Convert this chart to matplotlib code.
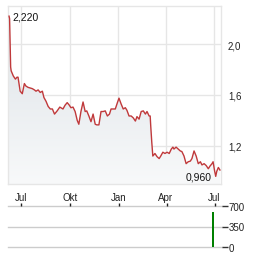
import numpy as np
import matplotlib
matplotlib.use('Agg')
import matplotlib.pyplot as plt
import matplotlib.dates as mdates
from matplotlib.colors import LinearSegmentedColormap
from datetime import datetime

# price series
dates = ['2024-06-08', '2024-06-09', '2024-06-11', '2024-06-12', '2024-06-16', '2024-06-20',
         '2024-06-23', '2024-06-25', '2024-06-29', '2024-07-03', '2024-07-07', '2024-07-10',
         '2024-07-14', '2024-07-18', '2024-07-22', '2024-07-26', '2024-07-29', '2024-08-02',
         '2024-08-06', '2024-08-10', '2024-08-13', '2024-08-17', '2024-08-21', '2024-08-25',
         '2024-08-29', '2024-09-02', '2024-09-07', '2024-09-12', '2024-09-18', '2024-09-22',
         '2024-09-26', '2024-09-30', '2024-10-03', '2024-10-07', '2024-10-11', '2024-10-15',
         '2024-10-18', '2024-10-22', '2024-10-26', '2024-10-30', '2024-11-02', '2024-11-06',
         '2024-11-10', '2024-11-14', '2024-11-18', '2024-11-21', '2024-11-25', '2024-11-29',
         '2024-12-03', '2024-12-07', '2024-12-11', '2024-12-15', '2024-12-18', '2024-12-22',
         '2024-12-26', '2024-12-30', '2025-01-02', '2025-01-06', '2025-01-10', '2025-01-14',
         '2025-01-17', '2025-01-21', '2025-01-25', '2025-01-29', '2025-02-02', '2025-02-05',
         '2025-02-09', '2025-02-13', '2025-02-17', '2025-02-21', '2025-02-24', '2025-02-28',
         '2025-03-02', '2025-03-03', '2025-03-05', '2025-03-07', '2025-03-11', '2025-03-15',
         '2025-03-19', '2025-03-22', '2025-03-26', '2025-03-30', '2025-04-03', '2025-04-07',
         '2025-04-11', '2025-04-14', '2025-04-16', '2025-04-20', '2025-04-24', '2025-04-28',
         '2025-05-01', '2025-05-05', '2025-05-09', '2025-05-13', '2025-05-17', '2025-05-20',
         '2025-05-24', '2025-05-28', '2025-06-01', '2025-06-05', '2025-06-08', '2025-06-12',
         '2025-06-16', '2025-06-20', '2025-06-23', '2025-06-27', '2025-06-29', '2025-07-02',
         '2025-07-04', '2025-07-06', '2025-07-09', '2025-07-12']
prices = [2.22, 2.20, 1.82, 1.79, 1.75, 1.725,
          1.74, 1.74, 1.63, 1.61, 1.69, 1.67,
          1.66, 1.655, 1.65, 1.64, 1.63, 1.64,
          1.62, 1.63, 1.58, 1.55, 1.51, 1.49,
          1.49, 1.45, 1.475, 1.505, 1.49, 1.52,
          1.54, 1.52, 1.50, 1.505, 1.47, 1.40,
          1.37, 1.47, 1.545, 1.47, 1.475, 1.435,
          1.39, 1.45, 1.37, 1.365, 1.365, 1.47,
          1.47, 1.475, 1.435, 1.45, 1.49, 1.49,
          1.49, 1.54, 1.575, 1.53, 1.49, 1.50,
          1.48, 1.435, 1.435, 1.42, 1.395, 1.43,
          1.41, 1.47, 1.475, 1.45, 1.47, 1.435,
          1.435, 1.36, 1.23, 1.12, 1.14, 1.115,
          1.10, 1.12, 1.15, 1.14, 1.15, 1.14,
          1.175, 1.19, 1.175, 1.19, 1.175, 1.16,
          1.155, 1.12, 1.06, 1.075, 1.08, 1.10,
          1.16, 1.12, 1.06, 1.075, 1.05, 1.06,
          1.045, 1.02, 1.04, 1.06, 1.075, 1.00,
          0.96, 1.00, 1.03, 1.01]

vol_dates = ['2025-06-27']
vol_values = [600]

month_ticks = ['2024-07-01', '2024-10-01', '2025-01-01', '2025-04-01', '2025-07-01']
month_labels = ['Jul', 'Okt', 'Jan', 'Apr', 'Jul']
price_ticks = [1.2, 1.6, 2.0]
vol_ticks = [0, 350, 700]

plt.rcParams['font.family'] = ['Liberation Sans', 'DejaVu Sans']

x = mdates.date2num([datetime.strptime(d, '%Y-%m-%d') for d in dates])
y = np.array(prices)
xt = mdates.date2num([datetime.strptime(d, '%Y-%m-%d') for d in month_ticks])
xmin = mdates.date2num(datetime(2024, 6, 6))
xmax = mdates.date2num(datetime(2025, 7, 14))
ymin, ymax = 0.90, 2.30

fig = plt.figure(figsize=(2.64, 2.55), dpi=100)
ax = fig.add_axes([8/264, 1-185/255, 213/264, 178/255])
vax = fig.add_axes([8/264, 1-248/255, 214/264, 41/255])

# price panel
grid_c = '#e6e6e6'
ax.set_xlim(xmin, xmax)
ax.set_ylim(ymin, ymax)
for s in ax.spines.values():
    s.set_color(grid_c)
    s.set_linewidth(1)
ax.set_xticks(xt)
ax.set_xticklabels(month_labels)
ax.set_yticks(price_ticks)
ax.set_yticklabels([('%.1f' % v).replace('.', ',') for v in price_ticks])
ax.yaxis.tick_right()
ax.tick_params(axis='both', length=0, labelsize=7, colors='#222222')
ax.tick_params(axis='y', pad=5)
ax.tick_params(axis='x', pad=6)
ax.grid(True, color=grid_c, linewidth=1)
ax.set_axisbelow(True)

# gradient fill under the line
cmap = LinearSegmentedColormap.from_list('fill', ['#f8f9fa', '#dce2e7'])
grad = np.linspace(0, 1, 256).reshape(-1, 1)
im = ax.imshow(grad, extent=[xmin, xmax, ymin, 2.25], origin='lower', aspect='auto',
               cmap=cmap, zorder=1)
poly = ax.fill_between(x, y, ymin, color='none', zorder=1)
im.set_clip_path(poly.get_paths()[0], transform=ax.transData)
ax.set_xlim(xmin, xmax)
ax.set_ylim(ymin, ymax)

ax.plot(x, y, color='#c0393b', linewidth=1, zorder=3)

imax = int(np.argmax(y))
imin = int(np.argmin(y))
ax.annotate(('%.3f' % y[imax]).replace('.', ','), (x[imax], y[imax]), xytext=(3, 0),
            textcoords='offset pixels', ha='left', va='center', fontsize=7.5, color='#111111')
ax.annotate(('%.3f' % y[imin]).replace('.', ','), (x[imin], y[imin]), xytext=(-4, 0),
            textcoords='offset pixels', ha='right', va='center', fontsize=7.5, color='#111111')

# volume panel
xv = mdates.date2num([datetime.strptime(d, '%Y-%m-%d') for d in vol_dates])
vax.set_xlim(xmin, xmax)
vax.set_ylim(0, 700)
vax.bar(xv, vol_values, width=2.6, color='#008000', linewidth=0, zorder=3)
for s in vax.spines.values():
    s.set_visible(False)
for v in vol_ticks:
    vax.axhline(v, color='#cccccc', linewidth=1, zorder=1, clip_on=False)
vax.set_yticks(vol_ticks)
vax.yaxis.tick_right()
vax.tick_params(axis='y', length=4, width=1, color='#333333', labelsize=7,
                labelcolor='#222222', pad=1)
vax.set_xticks(xt)
vax.xaxis.tick_top()
vax.tick_params(axis='x', length=2.5, width=1, color='#222222', labeltop=False,
                labelbottom=False, direction='out')

fig.savefig('out.png', dpi=100)
